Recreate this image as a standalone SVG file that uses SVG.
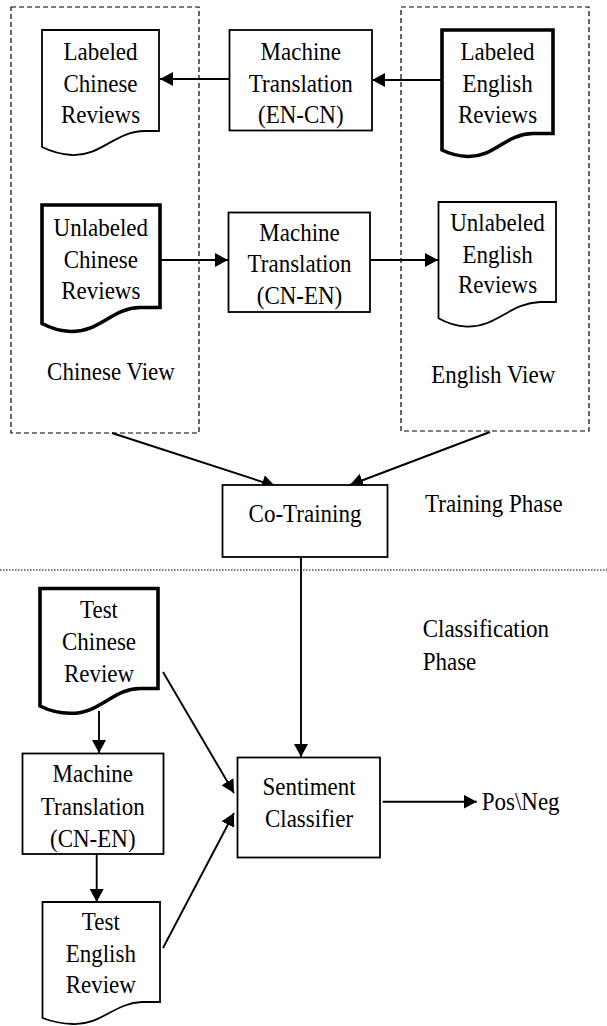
<svg xmlns="http://www.w3.org/2000/svg" width="607" height="1026" viewBox="0 0 607 1026">
<style>
.t{font-family:"Liberation Serif","Times New Roman",serif;font-size:23px;fill:#000;text-anchor:middle}
.l{text-anchor:start}
.box{fill:#fff;stroke:#000;stroke-width:1.8}
.doc{fill:#fff;stroke:#000;stroke-width:1.8;stroke-linejoin:miter}
.thick{stroke-width:3.6}
.view{fill:none;stroke:#000;stroke-width:1.2;stroke-dasharray:5 3}
.c{stroke:#000;stroke-width:1.9;fill:none;marker-end:url(#ah)}
</style>
<defs>
<marker id="ah" markerUnits="userSpaceOnUse" markerWidth="14" markerHeight="15" refX="13" refY="7" orient="auto">
<path d="M0,0 L13,7 L0,14 Z" fill="#000"/>
</marker>
</defs>
<rect width="607" height="1026" fill="#fff"/>
<g id="chinese-view">
<rect class="view" x="11" y="7" width="188" height="426"/>
<text class="t" transform="translate(111 380) scale(1 1.08)">Chinese View</text>
</g>
<g id="english-view">
<rect class="view" x="401" y="7" width="188" height="424"/>
<text class="t" transform="translate(493.3 382.7) scale(1 1.08)">English View</text>
</g>
<line id="phase-divider" x1="0" y1="570" x2="607" y2="570" stroke="#000" stroke-width="1.2" stroke-dasharray="1.5 1.5"/>
<g id="training-phase-label"><text class="t l" transform="translate(425 512.3) scale(1 1.08)">Training Phase</text></g>
<g id="classification-phase-label">
<text class="t l" transform="translate(422.7 636.7) scale(1 1.08)">Classification</text>
<text class="t l" transform="translate(422.7 670) scale(1 1.08)">Phase</text>
</g>
<g id="connectors">
<line class="c" x1="229" y1="79" x2="160" y2="79"/>
<line class="c" x1="441" y1="80" x2="372" y2="80"/>
<line class="c" x1="160" y1="260" x2="228" y2="260"/>
<line class="c" x1="370" y1="260" x2="438" y2="260"/>
<line class="c" x1="112" y1="433" x2="275" y2="486"/>
<line class="c" x1="490" y1="432" x2="350" y2="485"/>
<line class="c" x1="301" y1="557" x2="301" y2="757"/>
<line class="c" x1="99" y1="711" x2="99" y2="753"/>
<line class="c" x1="96.7" y1="854" x2="96.7" y2="902"/>
<line class="c" x1="163" y1="672" x2="234" y2="793"/>
<line class="c" x1="163" y1="948" x2="234" y2="813"/>
<line class="c" x1="382.7" y1="801.7" x2="476.7" y2="801.7"/>
</g>
<g id="labeled-chinese">
<path class="doc" d="M42,30 H159 V131 H145 C115,131 102,156 72,155 Q56,154 42,147 Z"/>
<text class="t" transform="translate(100.5 60) scale(1 1.08)">Labeled</text>
<text class="t" transform="translate(100.5 91.7) scale(1 1.08)">Chinese</text>
<text class="t" transform="translate(100.5 123.3) scale(1 1.08)">Reviews</text>
</g>
<g id="mt-en-cn">
<rect class="box" x="229.5" y="30" width="142.5" height="100.5"/>
<text class="t" transform="translate(300.8 60) scale(1 1.08)">Machine</text>
<text class="t" transform="translate(300.8 91.7) scale(1 1.08)">Translation</text>
<text class="t" transform="translate(300.8 123.3) scale(1 1.08)">(EN-CN)</text>
</g>
<g id="labeled-english">
<path class="doc thick" d="M442,30 H553 V133.5 H533 C505,134 495,157 468,156.5 Q454,156 442,150 Z"/>
<text class="t" transform="translate(497.5 60) scale(1 1.08)">Labeled</text>
<text class="t" transform="translate(497.5 91.7) scale(1 1.08)">English</text>
<text class="t" transform="translate(497.5 123.3) scale(1 1.08)">Reviews</text>
</g>
<g id="unlabeled-chinese">
<path class="doc thick" d="M42,205 H160 V307.5 H140 C112,308 100,332 71,331.5 Q56,331 42,323.5 Z"/>
<text class="t" transform="translate(100.8 235.7) scale(1 1.08)">Unlabeled</text>
<text class="t" transform="translate(100.8 267.7) scale(1 1.08)">Chinese</text>
<text class="t" transform="translate(100.8 299.3) scale(1 1.08)">Reviews</text>
</g>
<g id="mt-cn-en">
<rect class="box" x="228.5" y="212.5" width="141.5" height="99.5"/>
<text class="t" transform="translate(299.5 240.7) scale(1 1.08)">Machine</text>
<text class="t" transform="translate(299.5 272) scale(1 1.08)">Translation</text>
<text class="t" transform="translate(299.5 303.5) scale(1 1.08)">(CN-EN)</text>
</g>
<g id="unlabeled-english">
<path class="doc" d="M438.5,202 H556 V302 H540 C510,303 497,327 467,326.7 Q452,326 438.5,318.3 Z"/>
<text class="t" transform="translate(497.5 230.7) scale(1 1.08)">Unlabeled</text>
<text class="t" transform="translate(497.5 262.7) scale(1 1.08)">English</text>
<text class="t" transform="translate(497.5 293.3) scale(1 1.08)">Reviews</text>
</g>
<g id="co-training">
<rect class="box" x="222.5" y="485" width="165" height="72"/>
<text class="t" transform="translate(305 521.7) scale(1 1.08)">Co-Training</text>
</g>
<g id="test-chinese">
<path class="doc thick" d="M40,588.5 H158 V688.5 H140 C112,689 100,714 70,713.3 Q54,713 40,706 Z"/>
<text class="t" transform="translate(99 618.3) scale(1 1.08)">Test</text>
<text class="t" transform="translate(99 650) scale(1 1.08)">Chinese</text>
<text class="t" transform="translate(99 681.7) scale(1 1.08)">Review</text>
</g>
<g id="mt-cn-en-test">
<rect class="box" x="22.5" y="753.5" width="141" height="100.5"/>
<text class="t" transform="translate(92.8 781.7) scale(1 1.08)">Machine</text>
<text class="t" transform="translate(92.8 815) scale(1 1.08)">Translation</text>
<text class="t" transform="translate(92.8 846.7) scale(1 1.08)">(CN-EN)</text>
</g>
<g id="test-english">
<path class="doc" d="M42.5,902 H160 V1002 H142 C114,1003 102,1025 73,1024 Q57,1023.5 42.5,1018 Z"/>
<text class="t" transform="translate(100.8 930) scale(1 1.08)">Test</text>
<text class="t" transform="translate(100.8 961.7) scale(1 1.08)">English</text>
<text class="t" transform="translate(100.8 993.3) scale(1 1.08)">Review</text>
</g>
<g id="sentiment-classifier">
<rect class="box" x="237.5" y="757.5" width="142.5" height="100"/>
<text class="t" transform="translate(309 795) scale(1 1.08)">Sentiment</text>
<text class="t" transform="translate(309 826.7) scale(1 1.08)">Classifier</text>
</g>
<g id="pos-neg"><text class="t l" transform="translate(481.7 810) scale(1 1.08)">Pos\Neg</text></g>
</svg>
